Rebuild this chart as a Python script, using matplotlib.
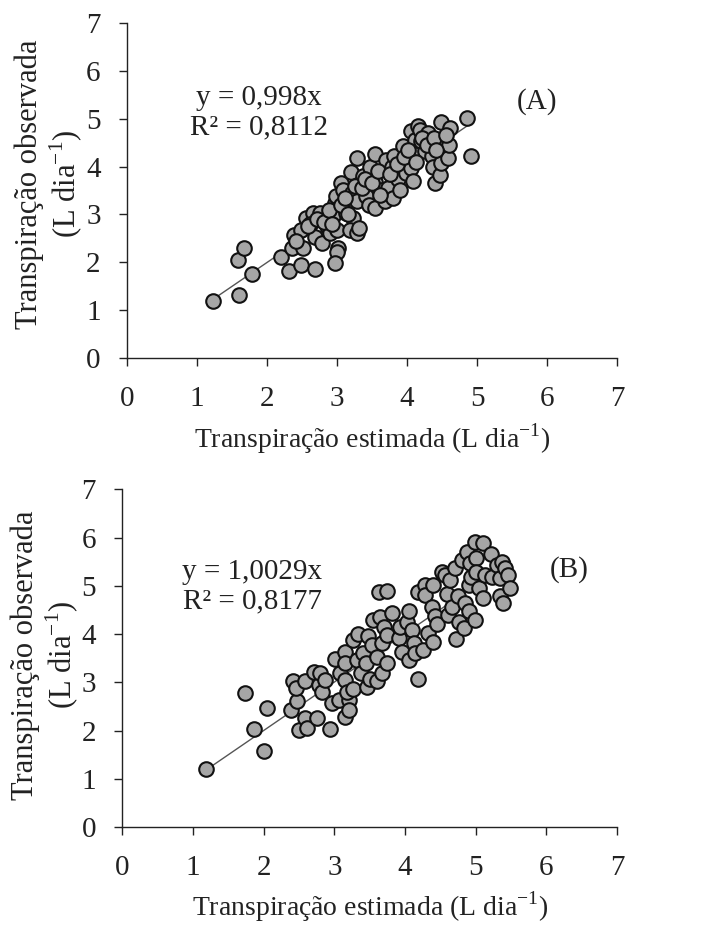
import matplotlib
matplotlib.use("Agg")
import matplotlib.pyplot as plt
import numpy as np

plt.rcParams['font.family'] = ['Liberation Serif', 'DejaVu Serif']

# Panel A data
xa = [1.23, 1.60, 1.59, 1.67, 1.78, 2.20, 2.31, 2.38, 2.36, 2.49, 2.52, 2.49, 2.56, 2.66, 2.62,
      2.68, 2.68, 2.79, 2.75, 2.85, 2.90, 2.94, 2.97, 2.98, 3.01, 3.00, 2.97, 3.00, 3.06, 3.09,
      3.13, 3.20, 3.22, 3.23, 3.19, 3.28, 3.32, 3.28, 3.28, 3.37, 3.42, 3.45, 3.47, 3.54, 3.54,
      3.54, 3.63, 3.68, 3.70, 3.73, 3.78, 3.80, 3.82, 3.87, 3.90, 3.92, 3.94, 3.99, 4.06, 4.06,
      4.09, 4.09, 4.11, 4.16, 4.20, 4.18, 4.25, 4.30, 4.32, 4.35, 4.37, 4.40, 4.44, 4.47, 4.49,
      4.49, 4.51, 4.59, 4.60, 4.61, 4.85, 4.92,
      2.42, 2.58, 2.72, 2.82, 2.88, 2.93, 3.05, 3.12, 3.16, 3.25, 3.35, 3.40, 3.50, 3.58, 3.62,
      3.75, 3.85, 3.96, 4.02, 4.13, 4.22, 4.28, 4.38, 4.42, 4.55]
ya = [1.20, 1.32, 2.05, 2.30, 1.75, 2.12, 1.82, 2.58, 2.30, 1.94, 2.30, 2.68, 2.92, 3.03, 2.81,
      2.53, 1.85, 2.40, 3.03, 2.75, 2.61, 2.96, 3.24, 3.38, 2.30, 2.21, 1.98, 2.68, 3.66, 3.52,
      3.03, 3.88, 3.45, 2.92, 2.68, 2.61, 2.72, 3.27, 4.18, 3.80, 3.38, 3.20, 4.00, 4.27, 3.67,
      3.13, 3.52, 3.27, 4.14, 3.55, 4.00, 3.34, 4.21, 3.73, 3.52, 4.07, 4.42, 3.86, 3.97, 4.74,
      3.69, 4.28, 4.56, 4.84, 4.53, 4.77, 4.32, 4.70, 4.42, 4.21, 4.00, 3.66, 4.56, 3.82, 4.94,
      4.07, 4.42, 4.18, 4.46, 4.80, 5.01, 4.21,
      2.45, 2.75, 2.90, 2.85, 3.10, 2.80, 3.20, 3.35, 3.00, 3.60, 3.55, 3.75, 3.65, 3.90, 3.40,
      3.85, 4.05, 4.20, 4.35, 4.10, 4.60, 4.45, 4.60, 4.35, 4.65]

# Panel B data
xb = [1.18, 1.74, 1.86, 2.00, 2.05, 2.39, 2.42, 2.47, 2.50, 2.45, 2.59, 2.61, 2.59, 2.71, 2.75,
      2.78, 2.80, 2.82, 2.87, 2.94, 2.97, 3.01, 3.06, 3.08, 3.15, 3.15, 3.15, 3.15, 3.20, 3.20,
      3.18, 3.27, 3.27, 3.32, 3.34, 3.37, 3.41, 3.44, 3.46, 3.48, 3.51, 3.53, 3.55, 3.60, 3.60,
      3.63, 3.65, 3.67, 3.67, 3.70, 3.74, 3.74, 3.75, 3.81, 3.91, 3.93, 3.95, 4.03, 4.05, 4.05,
      4.10, 4.12, 4.14, 4.18, 4.19, 4.26, 4.28, 4.28, 4.33, 4.38, 4.40, 4.40, 4.42, 4.45, 4.52,
      4.57, 4.59, 4.61, 4.64, 4.66, 4.71, 4.72, 4.75, 4.77, 4.80, 4.83, 4.85, 4.87, 4.90, 4.90,
      4.92, 4.94, 4.99, 4.99, 5.01, 5.01, 5.04, 5.10, 5.11, 5.13, 5.21, 5.23, 5.30, 5.34, 5.34,
      5.37, 5.38, 5.41, 5.46, 5.49]
yb = [1.20, 2.79, 2.03, 1.59, 2.48, 2.42, 3.03, 2.62, 2.02, 2.88, 2.26, 2.05, 3.02, 3.22, 2.26,
      2.95, 3.19, 2.81, 3.05, 2.03, 2.57, 3.48, 2.64, 3.19, 3.62, 3.40, 3.05, 2.29, 2.64, 2.43,
      2.81, 2.86, 3.88, 3.46, 4.00, 3.19, 3.60, 3.40, 2.91, 3.96, 3.08, 3.77, 4.29, 3.53, 3.02,
      4.88, 4.36, 3.19, 3.81, 4.15, 3.40, 3.98, 4.89, 4.44, 3.91, 4.15, 3.64, 4.26, 4.47, 3.46,
      4.09, 3.81, 3.60, 3.08, 4.88, 3.67, 5.02, 4.81, 4.02, 4.57, 3.84, 5.02, 4.38, 4.22, 5.29,
      5.22, 4.84, 4.40, 5.12, 4.57, 5.36, 3.89, 4.78, 4.26, 5.53, 4.12, 4.64, 5.71, 5.02, 4.47,
      5.47, 5.19, 5.91, 4.29, 5.57, 5.29, 4.95, 5.88, 4.74, 5.22, 5.67, 5.19, 5.43, 5.16, 4.78,
      5.50, 4.65, 5.36, 5.22, 4.95]

slope_a, r2_a = 0.998, "0,8112"
slope_b, r2_b = 1.0029, "0,8177"
ticks = [0, 1, 2, 3, 4, 5, 6, 7]

TXT = '#222222'
SUP = 'dia$^{\\mathregular{-1}}$'

fig = plt.figure(figsize=(7.03, 9.26), dpi=100)
ax1 = fig.add_axes([0.1807, 0.6134, 0.6970, 0.3618])
ax2 = fig.add_axes([0.1742, 0.1066, 0.7035, 0.3650])

def style(ax, x, y, slope, eq, r2, tag, eqpos, tagpos, ylab_xy, xlab_y):
    xs = np.array([min(x), max(x)])
    ax.plot(xs, slope * xs, color='#555555', lw=1.0, zorder=2)
    ax.scatter(x, y, s=110, facecolor='#a6a6a6', edgecolor='#111111', linewidths=1.5, zorder=3)
    ax.set_xlim(0, 7)
    ax.set_ylim(0, 7)
    ax.set_xticks(ticks)
    ax.set_yticks(ticks)
    for s in ['top', 'right']:
        ax.spines[s].set_visible(False)
    for s in ['left', 'bottom']:
        ax.spines[s].set_linewidth(1.0)
        ax.spines[s].set_color('#222222')
    ax.tick_params(axis='both', direction='out', length=6, width=1.0, labelsize=21,
                   colors='#222222', labelcolor=TXT)
    ax.tick_params(axis='x', pad=14)
    ax.tick_params(axis='y', pad=13)
    ax.set_xlabel('Transpiração estimada (L ' + SUP + ')', fontsize=20, color=TXT)
    ax.set_ylabel('Transpiração observada\n(L ' + SUP + ')', fontsize=22, color=TXT,
                  linespacing=1.12)
    ax.yaxis.set_label_coords(*ylab_xy)
    ax.xaxis.set_label_coords(0.5, xlab_y)
    ax.text(eqpos[0], eqpos[1], eq + '\nR\u00b2 = ' + r2, fontsize=21, color=TXT,
            ha='center', va='center', linespacing=1.18)
    ax.text(tagpos[0], tagpos[1], tag, fontsize=21, color=TXT, ha='center', va='center')

style(ax1, xa, ya, slope_a, 'y = 0,998x', r2_a, '(A)', (1.89, 5.12), (5.86, 5.35),
      (-0.086, 0.52), -0.19)
style(ax2, xb, yb, slope_b, 'y = 1,0029x', r2_b, '(B)', (1.84, 4.98), (6.33, 5.33),
      (-0.084, 0.51), -0.185)

fig.savefig('out.png', dpi=100)
